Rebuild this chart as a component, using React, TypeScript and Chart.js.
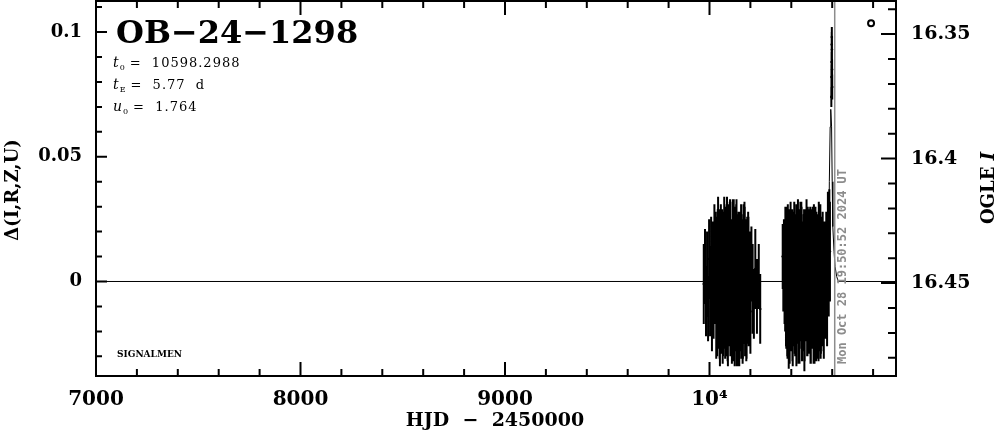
import React, { useEffect, useRef } from 'react';
import { Chart, registerables } from 'chart.js';

Chart.register(...registerables);

// [HJD-2450000, delta, error]
const season2023: [number, number, number][] = [
  [9972, -0.001, 0.016], [9978, 0.006, 0.015], [9983, -0.008, 0.014], [9988, 0.003, 0.017],
  [9993, -0.011, 0.013], [9998, 0.009, 0.016], [10003, -0.004, 0.018], [10008, 0.012, 0.014],
  [10012, -0.013, 0.015], [10016, 0.005, 0.019], [10020, -0.007, 0.016], [10024, 0.014, 0.017],
  [10027, -0.002, 0.015], [10030, 0.010, 0.018], [10033, -0.015, 0.016], [10036, 0.007, 0.019],
  [10039, -0.009, 0.017], [10042, 0.016, 0.018], [10045, -0.005, 0.020], [10048, 0.011, 0.016],
  [10051, -0.017, 0.017], [10054, 0.003, 0.019], [10057, 0.013, 0.015], [10060, -0.010, 0.018],
  [10063, 0.008, 0.020], [10066, -0.014, 0.016], [10069, 0.001, 0.018], [10072, 0.015, 0.019],
  [10075, -0.006, 0.017], [10078, 0.010, 0.020], [10081, -0.012, 0.018], [10084, 0.004, 0.016],
  [10087, 0.012, 0.019], [10090, -0.016, 0.018], [10093, 0.006, 0.017], [10096, -0.003, 0.020],
  [10099, 0.014, 0.018], [10102, -0.011, 0.019], [10105, 0.009, 0.016], [10108, -0.007, 0.020],
  [10111, 0.002, 0.018], [10114, 0.016, 0.017], [10117, -0.013, 0.019], [10120, 0.005, 0.018],
  [10123, -0.018, 0.016], [10126, 0.011, 0.019], [10129, -0.004, 0.017], [10132, 0.013, 0.020],
  [10135, -0.009, 0.018], [10138, 0.007, 0.017], [10141, -0.015, 0.019], [10144, 0.000, 0.018],
  [10147, 0.012, 0.016], [10150, -0.006, 0.020], [10153, 0.010, 0.017], [10156, -0.012, 0.019],
  [10159, 0.003, 0.018], [10162, -0.016, 0.017], [10165, 0.008, 0.019], [10168, -0.002, 0.016],
  [10171, 0.014, 0.018], [10174, -0.010, 0.020], [10177, 0.006, 0.017], [10180, -0.014, 0.018],
  [10183, 0.009, 0.016], [10186, -0.005, 0.019], [10189, 0.011, 0.017], [10192, -0.008, 0.018],
  [10196, 0.004, 0.016], [10200, -0.012, 0.017], [10205, 0.007, 0.015], [10211, -0.003, 0.018],
  [10217, -0.009, 0.014], [10224, 0.005, 0.016], [10232, -0.006, 0.015], [10241, 0.002, 0.013],
  [10248, -0.011, 0.014],
  [10034.5, 0.004, 0.022], [10037.5, -0.006, 0.024], [10040.5, 0.008, 0.021], [10043.5, -0.002, 0.025],
  [10046.5, 0.006, 0.023], [10049.5, -0.009, 0.022], [10052.5, 0.002, 0.026], [10055.5, 0.010, 0.021],
  [10058.5, -0.005, 0.024], [10061.5, 0.007, 0.022], [10064.5, -0.008, 0.025], [10067.5, 0.003, 0.023],
  [10070.5, -0.001, 0.026], [10073.5, 0.009, 0.022], [10076.5, -0.007, 0.024], [10079.5, 0.005, 0.021],
  [10082.5, -0.003, 0.025], [10085.5, 0.011, 0.023], [10088.5, -0.010, 0.022], [10091.5, 0.001, 0.026],
  [10094.5, 0.007, 0.024], [10097.5, -0.004, 0.022], [10100.5, 0.008, 0.025], [10103.5, -0.006, 0.023],
  [10106.5, 0.003, 0.021], [10109.5, -0.009, 0.024], [10112.5, 0.006, 0.026], [10115.5, -0.002, 0.022],
  [10118.5, 0.010, 0.023], [10121.5, -0.007, 0.025], [10124.5, 0.002, 0.021], [10127.5, -0.004, 0.024],
  [10130.5, 0.009, 0.022], [10133.5, -0.008, 0.026], [10136.5, 0.004, 0.023], [10139.5, -0.001, 0.025],
  [10142.5, 0.007, 0.021], [10145.5, -0.010, 0.024], [10148.5, 0.005, 0.022], [10151.5, -0.003, 0.025],
  [10154.5, 0.008, 0.023], [10157.5, -0.006, 0.021], [10160.5, 0.001, 0.024], [10163.5, -0.009, 0.022],
  [10166.5, 0.006, 0.025], [10169.5, -0.002, 0.023], [10172.5, 0.009, 0.021], [10175.5, -0.005, 0.024],
  [10178.5, 0.003, 0.022], [10181.5, -0.008, 0.023], [10184.5, 0.005, 0.021], [10187.5, -0.003, 0.022],
  [10190.5, 0.006, 0.020],
];

const season2024: [number, number, number][] = [
  [10358, 0.010, 0.013], [10361, 0.004, 0.016], [10364, 0.013, 0.012], [10367, -0.002, 0.015],
  [10369, 0.008, 0.017], [10370, -0.006, 0.014], [10371, 0.012, 0.018], [10374, -0.010, 0.016],
  [10377, 0.006, 0.019], [10380, -0.013, 0.017], [10383, 0.015, 0.016], [10386, -0.004, 0.019],
  [10389, 0.009, 0.017], [10392, -0.015, 0.018], [10395, 0.002, 0.020], [10398, 0.013, 0.016],
  [10401, -0.008, 0.019], [10404, 0.011, 0.018], [10407, -0.017, 0.017], [10410, 0.005, 0.020],
  [10413, -0.003, 0.018], [10416, 0.014, 0.017], [10419, -0.011, 0.019], [10422, 0.007, 0.018],
  [10425, -0.014, 0.020], [10428, 0.001, 0.017], [10431, 0.012, 0.019], [10434, -0.007, 0.018],
  [10437, 0.009, 0.020], [10440, -0.016, 0.017], [10443, 0.004, 0.019], [10446, -0.001, 0.018],
  [10449, 0.015, 0.017], [10452, -0.012, 0.020], [10455, 0.006, 0.018], [10458, -0.009, 0.019],
  [10461, 0.010, 0.017], [10464, -0.018, 0.018], [10467, 0.003, 0.020], [10470, 0.013, 0.016],
  [10473, -0.005, 0.019], [10476, 0.008, 0.018], [10479, -0.013, 0.017], [10482, 0.000, 0.020],
  [10485, 0.011, 0.018], [10488, -0.010, 0.019], [10491, 0.006, 0.017], [10494, -0.015, 0.018],
  [10497, 0.004, 0.020], [10500, 0.012, 0.017], [10503, -0.007, 0.019], [10506, 0.002, 0.018],
  [10509, -0.016, 0.017], [10512, 0.009, 0.019], [10515, -0.004, 0.018], [10518, 0.014, 0.016],
  [10521, -0.012, 0.020], [10524, 0.005, 0.018], [10527, -0.008, 0.019], [10530, 0.010, 0.017],
  [10533, -0.014, 0.018], [10536, 0.003, 0.020], [10539, -0.002, 0.017], [10542, 0.012, 0.019],
  [10545, -0.011, 0.018], [10548, 0.007, 0.016], [10551, -0.006, 0.019], [10555, 0.004, 0.017],
  [10559, -0.013, 0.018], [10563, 0.008, 0.016], [10567, -0.004, 0.019], [10571, 0.011, 0.017],
  [10575, -0.008, 0.018], [10579, 0.016, 0.020], [10583, 0.005, 0.019], [10586, 0.019, 0.018],
  [10589, 0.012, 0.020],
  [10372.5, 0.005, 0.020], [10375.5, -0.004, 0.023], [10378.5, 0.009, 0.021], [10381.5, -0.007, 0.024],
  [10384.5, 0.002, 0.022], [10387.5, -0.010, 0.025], [10390.5, 0.006, 0.023], [10393.5, -0.002, 0.021],
  [10396.5, 0.008, 0.024], [10399.5, -0.006, 0.022], [10402.5, 0.003, 0.026], [10405.5, -0.009, 0.023],
  [10408.5, 0.007, 0.021], [10411.5, -0.001, 0.025], [10414.5, 0.010, 0.022], [10417.5, -0.005, 0.024],
  [10420.5, 0.004, 0.023], [10423.5, -0.008, 0.021], [10426.5, 0.006, 0.025], [10429.5, -0.003, 0.022],
  [10432.5, 0.009, 0.024], [10435.5, -0.010, 0.023], [10438.5, 0.002, 0.026], [10441.5, -0.006, 0.021],
  [10444.5, 0.008, 0.024], [10447.5, -0.002, 0.022], [10450.5, 0.005, 0.025], [10453.5, -0.009, 0.023],
  [10456.5, 0.003, 0.021], [10459.5, -0.004, 0.024], [10462.5, 0.007, 0.022], [10465.5, -0.007, 0.025],
  [10468.5, 0.001, 0.023], [10471.5, -0.003, 0.021], [10474.5, 0.009, 0.024], [10477.5, -0.008, 0.022],
  [10480.5, 0.004, 0.026], [10483.5, -0.005, 0.023], [10486.5, 0.006, 0.021], [10489.5, -0.002, 0.025],
  [10492.5, 0.008, 0.022], [10495.5, -0.009, 0.024], [10498.5, 0.003, 0.023], [10501.5, -0.006, 0.021],
  [10504.5, 0.005, 0.025], [10507.5, -0.001, 0.022], [10510.5, 0.007, 0.024], [10513.5, -0.010, 0.023],
  [10516.5, 0.002, 0.021], [10519.5, -0.004, 0.025], [10522.5, 0.006, 0.022], [10525.5, -0.007, 0.024],
  [10528.5, 0.004, 0.023], [10531.5, -0.003, 0.021], [10534.5, 0.008, 0.024], [10537.5, -0.006, 0.022],
  [10540.5, 0.002, 0.025], [10543.5, -0.008, 0.023], [10546.5, 0.005, 0.021], [10549.5, -0.002, 0.024],
  [10553.5, 0.006, 0.022], [10557.5, -0.005, 0.023], [10561.5, 0.003, 0.021],
];

const peakPoints: [number, number, number][] = [
  [10595.8, 0.074, 0.004], [10596.4, 0.082, 0.005], [10597.0, 0.088, 0.004], [10597.6, 0.095, 0.005],
  [10598.2, 0.098, 0.004], [10598.8, 0.093, 0.005], [10599.4, 0.085, 0.004], [10600.0, 0.078, 0.005],
];

// model light curve [HJD, delta]
const modelCurve: [number, number][] = [
  [7000, 0], [10560, 0], [10578, 0.006], [10584, 0.02], [10586, 0.04], [10590, 0.062],
  [10593, 0.069], [10597, 0.062], [10600, 0.04], [10603, 0.022], [10609, 0.012],
  [10614, 0.006], [10622, 0.002], [10630, 0], [10912, 0],
];

const markerPoint: [number, number][] = [[10790, 0.1035]];
const currentTime = 10612.33;
const currentTimeLabel = 'Mon Oct 28 19:50:52 2024 UT';

const xTickValues = [7000, 8000, 9000, 10000];
const xTickLabels = ['7000', '8000', '9000', '10⁴'];
const leftTickValues = [0, 0.05, 0.1];
const leftTickLabels = ['0', '0.05', '0.1'];
const rightTickValues = [16.35, 16.4, 16.45];
const rightTickLabels = ['16.35', '16.4', '16.45'];

const eventName = 'OB−24−1298';
const paramSymbols = ['t', 't', 'u'];
const paramSubs = ['0', 'E', '0'];
const paramValues = ['=  10598.2988', '=  5.77  d', '=  1.764'];

const X_MIN = 7000, X_MAX = 10912;
const Y_MIN = -0.03789, Y_MAX = 0.11245;
const MAG_TOP = 16.3367, MAG_BOTTOM = 16.4873;

const allErrPoints = [...season2023, ...season2024, ...peakPoints];

const errorBarPlugin = {
  id: 'errorBars',
  beforeDatasetsDraw(chart: any) {
    const { ctx, chartArea, scales } = chart;
    const x = scales.x, y = scales.y;
    ctx.save();
    ctx.beginPath();
    ctx.rect(chartArea.left, chartArea.top, chartArea.right - chartArea.left, chartArea.bottom - chartArea.top);
    ctx.clip();
    ctx.strokeStyle = '#000';
    ctx.lineWidth = 2;
    ctx.beginPath();
    for (const [t, d, e] of allErrPoints) {
      const px = x.getPixelForValue(t);
      ctx.moveTo(px, y.getPixelForValue(d + e));
      ctx.lineTo(px, y.getPixelForValue(d - e));
    }
    ctx.stroke();
    ctx.restore();
  },
};

const overlayPlugin = {
  id: 'overlay',
  afterDraw(chart: any) {
    const { ctx, chartArea, scales } = chart;
    const { left, right, top, bottom } = chartArea;
    const x = scales.x, y = scales.y, y2 = scales.y2;
    ctx.save();

    // current time line
    const tx = x.getPixelForValue(currentTime);
    ctx.strokeStyle = '#8c8c8c';
    ctx.lineWidth = 1.5;
    ctx.beginPath();
    ctx.moveTo(tx, top);
    ctx.lineTo(tx, bottom);
    ctx.stroke();

    ctx.save();
    ctx.translate(tx + 8, bottom - 12);
    ctx.rotate(-Math.PI / 2);
    ctx.fillStyle = '#8c8c8c';
    ctx.font = 'bold 12px "DejaVu Sans Mono"';
    ctx.textAlign = 'left';
    ctx.textBaseline = 'middle';
    ctx.fillText(currentTimeLabel, 0, 0);
    ctx.restore();

    // frame
    ctx.strokeStyle = '#000';
    ctx.lineWidth = 2;
    ctx.strokeRect(left, top, right - left, bottom - top);

    // ticks
    ctx.beginPath();
    for (let k = 36; k <= 54; k++) {
      const v = k * 200;
      const px = x.getPixelForValue(v);
      if (px <= left || px >= right) continue;
      const len = v % 1000 === 0 ? 14 : 7;
      ctx.moveTo(px, bottom);
      ctx.lineTo(px, bottom - len);
      ctx.moveTo(px, top);
      ctx.lineTo(px, top + len);
    }
    for (let k = -3; k <= 11; k++) {
      const py = y.getPixelForValue(k / 100);
      if (py <= top || py >= bottom) continue;
      const len = k % 5 === 0 ? 11 : 6;
      ctx.moveTo(left, py);
      ctx.lineTo(left + len, py);
    }
    for (let k = 1633; k <= 1649; k++) {
      const py = y2.getPixelForValue(k / 100);
      if (py <= top || py >= bottom) continue;
      const len = k % 5 === 0 ? 15 : 8;
      ctx.moveTo(right, py);
      ctx.lineTo(right - len, py);
    }
    ctx.stroke();

    // texts
    ctx.fillStyle = '#000';
    ctx.textAlign = 'left';
    ctx.textBaseline = 'alphabetic';
    ctx.font = 'bold 32px "DejaVu Serif"';
    ctx.fillText(eventName, 116, 43);

    for (let i = 0; i < paramSymbols.length; i++) {
      const by = 67 + i * 22;
      let cx = 113;
      ctx.font = 'italic 14px "DejaVu Serif"';
      ctx.fillText(paramSymbols[i], cx, by);
      cx += ctx.measureText(paramSymbols[i]).width + 1;
      ctx.font = '8px "DejaVu Serif"';
      ctx.fillText(paramSubs[i], cx, by + 3);
      cx += ctx.measureText(paramSubs[i]).width + 5;
      ctx.font = '13px "DejaVu Serif"';
      (ctx as any).letterSpacing = '1px';
      ctx.fillText(paramValues[i], cx, by);
      (ctx as any).letterSpacing = '0px';
    }

    ctx.font = 'bold 9px "DejaVu Serif"';
    ctx.textBaseline = 'middle';
    ctx.fillText('SIGNALMEN', 117, 355);

    // axis titles
    ctx.font = 'bold 19px "DejaVu Serif"';
    ctx.textAlign = 'center';
    ctx.textBaseline = 'middle';
    ctx.fillText('HJD  −  2450000', 495, 421);

    ctx.save();
    ctx.translate(13, 190);
    ctx.rotate(-Math.PI / 2);
    ctx.font = 'bold 18px "DejaVu Serif"';
    ctx.fillText('Δ(I,R,Z,U)', 0, 0);
    ctx.restore();

    ctx.save();
    ctx.translate(989, 188);
    ctx.rotate(-Math.PI / 2);
    ctx.font = 'bold 18px "DejaVu Serif"';
    const w1 = ctx.measureText('OGLE ').width;
    ctx.font = 'bold italic 18px "DejaVu Serif"';
    const w2 = ctx.measureText('I').width;
    ctx.textAlign = 'left';
    ctx.font = 'bold 18px "DejaVu Serif"';
    ctx.fillText('OGLE ', -(w1 + w2) / 2, 0);
    ctx.font = 'bold italic 18px "DejaVu Serif"';
    ctx.fillText('I', -(w1 + w2) / 2 + w1, 0);
    ctx.restore();

    ctx.restore();
  },
};

const zeroPad = (s: any) => {
  s.paddingTop = 0;
  s.paddingBottom = 0;
  s.paddingLeft = 0;
  s.paddingRight = 0;
};

export default function App() {
  const canvasRef = useRef<HTMLCanvasElement | null>(null);

  useEffect(() => {
    document.body.style.margin = '0';
    const canvas = canvasRef.current;
    if (!canvas) return;
    const toXY = (arr: [number, number, ...number[]][]) => arr.map((p) => ({ x: p[0], y: p[1] }));
    const chart = new Chart(canvas, {
      type: 'scatter',
      data: {
        datasets: [
          {
            label: 'model',
            data: toXY(modelCurve),
            showLine: true,
            borderColor: '#000',
            borderWidth: 1,
            pointRadius: 0,
            yAxisID: 'y',
          },
          {
            label: 'season 2023',
            data: toXY(season2023),
            pointRadius: 1.3,
            backgroundColor: '#000',
            borderWidth: 0,
            yAxisID: 'y',
          },
          {
            label: 'season 2024',
            data: toXY(season2024),
            pointRadius: 1.3,
            backgroundColor: '#000',
            borderWidth: 0,
            yAxisID: 'y',
          },
          {
            label: 'peak',
            data: toXY(peakPoints),
            pointRadius: 1.3,
            backgroundColor: '#000',
            borderWidth: 0,
            yAxisID: 'y',
          },
          {
            label: 'marker',
            data: toXY(markerPoint),
            pointRadius: 3,
            backgroundColor: 'rgba(0,0,0,0)',
            borderColor: '#000',
            borderWidth: 2,
            yAxisID: 'y',
          },
        ],
      } as any,
      options: {
        animation: false,
        responsive: false,
        devicePixelRatio: 1,
        events: [],
        layout: { autoPadding: false, padding: { top: 1, left: 0, right: 0, bottom: 0 } },
        plugins: { legend: { display: false }, tooltip: { enabled: false } },
        scales: {
          x: {
            type: 'linear',
            position: 'bottom',
            min: X_MIN,
            max: X_MAX,
            grid: { display: false, drawTicks: false },
            border: { display: false },
            afterBuildTicks: (s: any) => { s.ticks = xTickValues.map((v) => ({ value: v })); },
            afterFit: (s: any) => { s.height = 58; zeroPad(s); },
            ticks: {
              autoSkip: false,
              maxRotation: 0,
              padding: 12,
              color: '#000',
              font: { family: '"DejaVu Serif"', size: 20, weight: 'bold' },
              callback: (v: any) => xTickLabels[xTickValues.indexOf(Number(v))] ?? '',
            },
          },
          y: {
            type: 'linear',
            position: 'left',
            min: Y_MIN,
            max: Y_MAX,
            grid: { display: false, drawTicks: false },
            border: { display: false },
            afterBuildTicks: (s: any) => { s.ticks = leftTickValues.map((v) => ({ value: v })); },
            afterFit: (s: any) => { s.width = 96; zeroPad(s); },
            ticks: {
              padding: 14,
              color: '#000',
              font: { family: '"DejaVu Serif"', size: 18, weight: 'bold' },
              callback: (v: any) => leftTickLabels[leftTickValues.indexOf(Number(v))] ?? '',
            },
          },
          y2: {
            type: 'linear',
            position: 'right',
            display: true,
            reverse: true,
            min: MAG_TOP,
            max: MAG_BOTTOM,
            grid: { display: false, drawTicks: false },
            border: { display: false },
            afterBuildTicks: (s: any) => { s.ticks = rightTickValues.map((v) => ({ value: v })); },
            afterFit: (s: any) => { s.width = 103; zeroPad(s); },
            ticks: {
              padding: 15,
              color: '#000',
              font: { family: '"DejaVu Serif"', size: 19, weight: 'bold' },
              callback: (v: any) => rightTickLabels[rightTickValues.indexOf(Number(v))] ?? '',
            },
          },
        },
      } as any,
      plugins: [errorBarPlugin, overlayPlugin],
    });
    return () => chart.destroy();
  }, []);

  return (
    <div style={{ position: 'fixed', left: 0, top: 0, width: 999, height: 434, background: '#fff' }}>
      <canvas ref={canvasRef} width={999} height={434} style={{ width: 999, height: 434, display: 'block' }} />
    </div>
  );
}
